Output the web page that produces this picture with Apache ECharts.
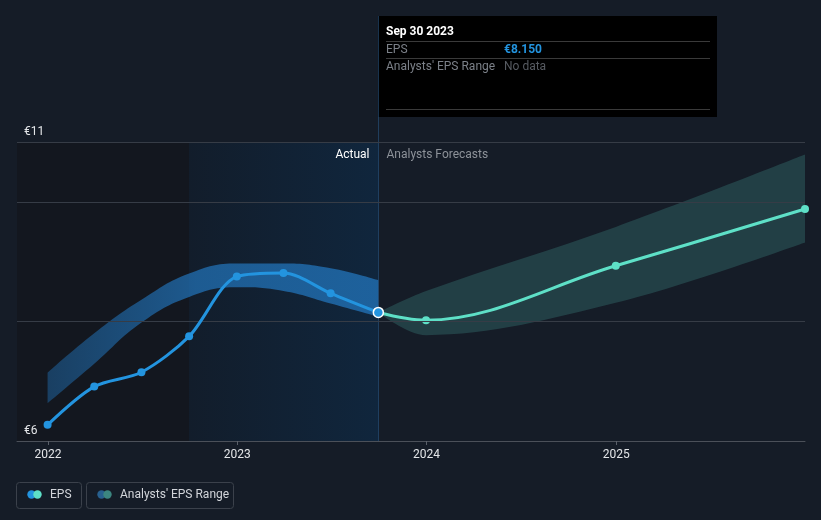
<!DOCTYPE html>
<html><head><meta charset="utf-8">
<script src="https://cdn.jsdelivr.net/npm/echarts@6/dist/echarts.min.js"></script>
<style>html,body{margin:0;padding:0;background:#151c27;}#c{width:821px;height:520px;}</style>
</head><body><div id="c"></div>
<script>
// ---- data ----
const actualDates = ['2021-12-31','2022-03-31','2022-06-30','2022-09-30','2022-12-31','2023-03-31','2023-06-30','2023-09-30'];
const epsActual = [6.27, 6.91, 7.15, 7.75, 8.75, 8.81, 8.47, 8.15];
const pastRangeLow = [6.63, 7.29, 7.98, 8.41, 8.57, 8.51, 8.30, 8.08];
const pastRangeHigh = [7.14, 7.80, 8.36, 8.80, 8.97, 8.97, 8.89, 8.69];
const forecastDates = ['2023-09-30','2023-12-31','2024-12-31','2025-12-31'];
const epsForecast = [8.15, 8.02, 8.93, 9.88];
const forecastLow = [8.15, 7.77, 8.31, 9.32];
const forecastHigh = [8.15, 8.51, 9.58, 10.79];
const yearTicks = ['2022-01-01','2023-01-01','2024-01-01','2025-01-01'];
const yTickLabels = [6, 11];
const gridValues = [8, 10, 11];
const xRange = ['2021-11-02', '2025-12-31'];
const shadeStart = '2022-09-30';
const crossDate = '2023-09-30';
const tipTitle = 'Sep 30 2023';
const tipEps = '€8.150';
const tipRange = 'No data';

const FONT = 'Roboto, "Noto Sans", sans-serif';
const chart = echarts.init(document.getElementById('c'), null, {renderer: 'canvas'});

const ts = s => { const [y, m, d] = s.split('-').map(Number); return Date.UTC(y, m - 1, d); };
const pair = (d, v) => d.map((x, i) => [ts(x), v[i]]);
const diff = (lo, hi) => lo.map((v, i) => +(hi[i] - v).toFixed(3));

const actualData = actualDates.map((d, i) => {
  const last = i === actualDates.length - 1;
  return last ? {value: [ts(d), epsActual[i]], symbolSize: 10,
    itemStyle: {color: '#2394df', borderColor: '#ffffff', borderWidth: 1.5}} : [ts(d), epsActual[i]];
});
const yearTs = yearTicks.map(ts);

const option = {
  backgroundColor: '#151c27',
  animation: false,
  textStyle: {fontFamily: FONT},
  grid: {left: 17, right: 16, top: 142, bottom: 79, containLabel: false},
  xAxis: [
    {
      type: 'time', min: ts(xRange[0]), max: ts(xRange[1]),
      axisLine: {show: false}, axisTick: {show: false}, axisLabel: {show: false}, splitLine: {show: false}
    },
    {
      type: 'value', position: 'bottom', z: 10,
      min: ts(xRange[0]), max: ts(xRange[1]),
      axisLine: {show: true, lineStyle: {color: '#4b5059', width: 1}},
      axisTick: {show: true, length: 4, lineStyle: {color: '#5a606a'}, customValues: yearTs},
      axisLabel: {color: '#e3e5e8', fontSize: 12, margin: 8, fontFamily: FONT,
        customValues: yearTs, formatter: v => String(new Date(v).getUTCFullYear())},
      splitLine: {show: false}
    }
  ],
  yAxis: {
    type: 'value', min: 6, max: 11, z: 10,
    axisLine: {show: false}, axisTick: {show: false},
    splitLine: {show: false},
    axisLabel: {inside: true, align: 'left', verticalAlign: 'bottom', margin: 7,
      padding: [0, 0, 4, 0], color: '#e3e5e8', fontSize: 12, fontFamily: FONT,
      customValues: yTickLabels, formatter: v => '€' + v}
  },
  series: [
    {
      name: 'pastLow', type: 'line', stack: 'past', smooth: 0.45,
      data: pair(actualDates, pastRangeLow), symbol: 'none', silent: true,
      lineStyle: {opacity: 0}, z: 1,
      markArea: {silent: true, data: [
        [{xAxis: ts(xRange[0]), itemStyle: {color: '#13171f'}}, {xAxis: ts(shadeStart)}],
        [{xAxis: ts(shadeStart), itemStyle: {color: {type: 'linear', x: 0, y: 0, x2: 1, y2: 0,
          colorStops: [{offset: 0, color: '#121d2b'}, {offset: 1, color: '#10263d'}]}}},
         {xAxis: ts(crossDate)}]
      ]},
      markLine: {silent: true, symbol: 'none', label: {show: false},
        lineStyle: {color: '#363c46', type: 'solid', width: 1},
        data: gridValues.map(v => ({yAxis: v}))}
    },
    {
      name: 'pastRange', type: 'line', stack: 'past', smooth: 0.45,
      data: pair(actualDates, diff(pastRangeLow, pastRangeHigh)), symbol: 'none', silent: true,
      lineStyle: {opacity: 0}, z: 2,
      areaStyle: {opacity: 1, color: {type: 'linear', x: 0, y: 0, x2: 1, y2: 0,
        colorStops: [{offset: 0, color: 'rgba(33,112,180,0.45)'}, {offset: 0.45, color: 'rgba(33,112,180,0.75)'}, {offset: 1, color: 'rgba(33,112,180,0.8)'}]}}
    },
    {
      name: 'fcLow', type: 'line', stack: 'fc', smooth: 0.35,
      data: pair(forecastDates, forecastLow), symbol: 'none', silent: true,
      lineStyle: {opacity: 0}, z: 1
    },
    {
      name: 'fcRange', type: 'line', stack: 'fc', smooth: 0.35,
      data: pair(forecastDates, diff(forecastLow, forecastHigh)), symbol: 'none', silent: true,
      lineStyle: {opacity: 0}, z: 2,
      areaStyle: {opacity: 1, color: 'rgba(72,160,150,0.27)'}
    },
    {
      name: 'EPS forecast', type: 'line', smooth: 0.35,
      data: pair(forecastDates, epsForecast),
      symbol: 'circle', symbolSize: 8, showSymbol: true,
      lineStyle: {color: '#5ee0c7', width: 3}, itemStyle: {color: '#5ee0c7'}, z: 4
    },
    {
      name: 'EPS', type: 'line', smooth: 0.3,
      data: actualData, symbol: 'circle', symbolSize: 8,
      lineStyle: {color: '#2394df', width: 3}, itemStyle: {color: '#2394df'}, z: 5
    }
  ]
};
chart.setOption(option);

const p = chart.convertToPixel({xAxisIndex: 0, yAxisIndex: 0}, [ts(crossDate), 8.15]);
const cx = Math.round(p[0]) + 0.5;
const topY = chart.convertToPixel({xAxisIndex: 0, yAxisIndex: 0}, [ts(crossDate), 11])[1];
const botY = chart.convertToPixel({xAxisIndex: 0, yAxisIndex: 0}, [ts(crossDate), 6])[1];
const tx = cx - 0.5;

chart.setOption({graphic: [
  {type: 'line', silent: true, z: 3, shape: {x1: cx, y1: 16, x2: cx, y2: botY},
    style: {stroke: 'rgba(40,85,130,0.6)', lineWidth: 1}},
  {type: 'text', silent: true, z: 10, x: cx - 9, y: topY + 13,
    style: {text: 'Actual', fill: '#ffffff', font: '12px ' + FONT, align: 'right', verticalAlign: 'middle'}},
  {type: 'text', silent: true, z: 10, x: cx + 8, y: topY + 13,
    style: {text: 'Analysts Forecasts', fill: '#8d9299', font: '12px ' + FONT, align: 'left', verticalAlign: 'middle'}},
  {type: 'group', silent: true, z: 20, x: tx, y: 16, children: [
    {type: 'rect', shape: {x: 0, y: 0, width: 339, height: 101}, style: {fill: '#000000'}},
    {type: 'text', x: 8, y: 16, style: {text: tipTitle, fill: '#ffffff', font: 'bold 12px ' + FONT, verticalAlign: 'middle'}},
    {type: 'line', shape: {x1: 8, y1: 25.5, x2: 332, y2: 25.5}, style: {stroke: '#3a3a3a', lineWidth: 1}},
    {type: 'text', x: 8, y: 34, style: {text: 'EPS', fill: '#7c8189', font: '12px ' + FONT, verticalAlign: 'middle'}},
    {type: 'text', x: 126, y: 34, style: {text: tipEps, fill: '#2394df', font: 'bold 12px ' + FONT, verticalAlign: 'middle'}},
    {type: 'line', shape: {x1: 8, y1: 42.5, x2: 332, y2: 42.5}, style: {stroke: '#3a3a3a', lineWidth: 1}},
    {type: 'text', x: 8, y: 51, style: {text: "Analysts' EPS Range", fill: '#7c8189', font: '12px ' + FONT, verticalAlign: 'middle'}},
    {type: 'text', x: 126, y: 51, style: {text: tipRange, fill: '#575b62', font: '12px ' + FONT, verticalAlign: 'middle'}},
    {type: 'line', shape: {x1: 8, y1: 93.5, x2: 332, y2: 93.5}, style: {stroke: '#3a3a3a', lineWidth: 1}}
  ]},
  {type: 'group', silent: true, z: 20, x: 0, y: 0, children: [
    {type: 'rect', shape: {x: 16.5, y: 482.5, width: 65, height: 26, r: 3}, style: {fill: 'rgba(0,0,0,0)', stroke: '#3b414b', lineWidth: 1}},
    {type: 'circle', shape: {cx: 31.5, cy: 494.5, r: 4.2}, style: {fill: '#2394df'}},
    {type: 'circle', shape: {cx: 37.5, cy: 494.5, r: 4.2}, style: {fill: '#5ee0c7'}},
    {type: 'text', x: 50, y: 495, style: {text: 'EPS', fill: '#d2d5da', font: '12px ' + FONT, verticalAlign: 'middle'}},
    {type: 'rect', shape: {x: 86.5, y: 482.5, width: 147, height: 26, r: 3}, style: {fill: 'rgba(0,0,0,0)', stroke: '#3b414b', lineWidth: 1}},
    {type: 'circle', shape: {cx: 101.5, cy: 494.5, r: 4.2}, style: {fill: '#28608f'}},
    {type: 'circle', shape: {cx: 107.5, cy: 494.5, r: 4.2}, style: {fill: '#3c8680'}},
    {type: 'text', x: 120, y: 495, style: {text: "Analysts' EPS Range", fill: '#d2d5da', font: '12px ' + FONT, verticalAlign: 'middle'}}
  ]}
]});
</script>
</body></html>
